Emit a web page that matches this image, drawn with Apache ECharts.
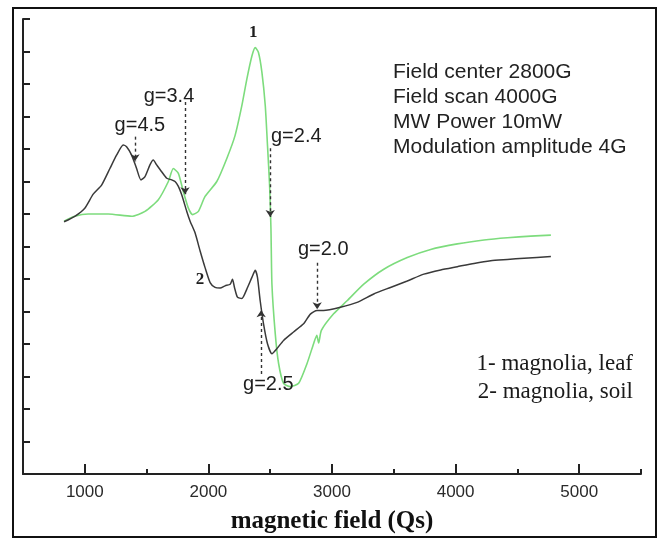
<!DOCTYPE html>
<html>
<head>
<meta charset="utf-8">
<script src="https://cdn.jsdelivr.net/npm/echarts@6/dist/echarts.min.js"></script>
<style>
  html, body { margin: 0; padding: 0; background: #fff; }
  #chart { width: 660px; height: 539px; }
</style>
</head>
<body>
<div id="chart"></div>
<script>
// curve 2 - magnolia, soil (black)
const soilX = [832, 919, 1000, 1068, 1136, 1203, 1257, 1311, 1338, 1379, 1419, 1454, 1487, 1527, 1554, 1582,
  1622, 1663, 1703, 1730, 1757, 1784, 1825, 1852, 1892, 1933, 1973, 2014, 2054, 2095, 2135, 2176, 2195, 2211,
  2235, 2271, 2311, 2352, 2379, 2397, 2419, 2446, 2478, 2514, 2555, 2608, 2689, 2770, 2825, 2879, 2932, 3068,
  3203, 3338, 3473, 3609, 3743, 3879, 4014, 4149, 4284, 4419, 4554, 4771]
const soilY = [7.76, 7.93, 8.18, 8.61, 8.89, 9.40, 9.81, 10.12, 10.07, 9.81, 9.40, 9.05, 9.15, 9.51, 9.66, 9.51,
  9.30, 9.10, 9.05, 9.00, 8.85, 8.59, 8.08, 7.78, 7.42, 6.86, 6.35, 5.89, 5.74, 5.72, 5.79, 5.84, 5.99, 5.74,
  5.44, 5.40, 5.69, 6.05, 6.27, 6.05, 5.33, 4.62, 4.01, 3.70, 3.86, 4.11, 4.37, 4.62, 4.92, 5.03, 5.03, 5.13,
  5.28, 5.54, 5.74, 5.94, 6.15, 6.28, 6.38, 6.48, 6.56, 6.60, 6.64, 6.69]

// curve 1 - magnolia, leaf (green)
const leafX = [832, 919, 1027, 1189, 1379, 1487, 1595, 1676, 1716, 1757, 1797, 1838, 1872, 1919, 1973, 2068,
  2149, 2216, 2271, 2311, 2352, 2379, 2405, 2433, 2460, 2478, 2495, 2506, 2514, 2541, 2568, 2608, 2662, 2730,
  2798, 2851, 2877, 2892, 2914, 3013, 3122, 3257, 3419, 3609, 3798, 4014, 4230, 4419, 4608, 4771]
const leafY = [7.78, 7.93, 8.00, 8.00, 7.93, 8.08, 8.44, 9.00, 9.40, 9.25, 8.69, 8.18, 7.98, 8.08, 8.54, 9.00,
  9.71, 10.42, 11.34, 12.15, 12.86, 13.12, 12.97, 12.36, 11.34, 10.12, 8.89, 7.57, 5.84, 4.31, 3.40, 2.79, 2.69, 2.79,
  3.40, 4.01, 4.27, 4.03, 4.42, 4.93, 5.33, 5.84, 6.30, 6.66, 6.91, 7.08, 7.20, 7.27, 7.32, 7.35]

// g-factor notes and their dashed arrows
const gNames = ['g=4.5', 'g=3.4', 'g=2.4', 'g=2.0', 'g=2.5']
const gLabelX = [1446, 1681, 2711, 2929, 2485]
const gLabelY = [10.72, 11.63, 10.38, 6.90, 2.75]
const arrowX = [1406, 1811, 2500, 2880, 2427]
const arrowFrom = [10.38, 11.45, 10.02, 6.50, 3.08]
const arrowTo = [9.62, 8.61, 7.91, 5.07, 5.04]

// curve numbers
const curveNames = ['1', '2']
const curveNameX = [2362, 1933]
const curveNameY = [13.59, 5.98]

const majorTicks = [1000, 2000, 3000, 4000, 5000]
const minorTicks = [1500, 2500, 3500, 4500, 5500]

const infoLines = ['Field center 2800G', 'Field scan 4000G', 'MW Power 10mW', 'Modulation amplitude 4G']
const legendLines = ['1- magnolia, leaf', '2- magnolia, soil']

const zip = (xs, ys) => xs.map((x, i) => [x, ys[i]])

const chart = echarts.init(document.getElementById('chart'), null, { renderer: 'canvas' })

const graphics = [{
  type: 'rect',
  shape: { x: 13, y: 8, width: 643, height: 529 },
  style: { fill: 'none', stroke: '#111', lineWidth: 2 },
  silent: true
}]
infoLines.forEach((t, i) => {
  graphics.push({
    type: 'text',
    style: { text: t, x: 393, y: 72 + i * 25, font: '21px "Liberation Sans", Arial', fill: '#222', verticalAlign: 'middle' }
  })
})
legendLines.forEach((t, i) => {
  graphics.push({
    type: 'text',
    style: { text: t, x: 633, y: 364 + i * 28, font: '23px "Liberation Serif", "Times New Roman"', fill: '#1a1a1a', align: 'right', verticalAlign: 'middle' }
  })
})

chart.setOption({
  animation: false,
  backgroundColor: '#fff',
  grid: { left: 23, right: 19, top: 19, bottom: 61, containLabel: false },
  xAxis: [{
    type: 'value',
    min: 500,
    max: 5500,
    position: 'bottom',
    axisLine: { lineStyle: { color: '#222', width: 2 } },
    axisTick: { inside: true, length: 10, customValues: majorTicks, lineStyle: { color: '#222', width: 2 } },
    axisLabel: {
      customValues: majorTicks,
      formatter: v => String(v),
      fontSize: 17,
      color: '#2a2a2a',
      margin: 10,
      fontFamily: '"Liberation Sans", Arial'
    },
    splitLine: { show: false },
    name: 'magnetic field (Qs)',
    nameLocation: 'middle',
    nameGap: 35,
    nameTextStyle: { fontFamily: '"Liberation Serif", "Times New Roman"', fontWeight: 'bold', fontSize: 25, color: '#111' }
  }, {
    type: 'value',
    min: 500,
    max: 5500,
    position: 'bottom',
    axisLine: { show: false },
    axisTick: { inside: true, length: 5, customValues: minorTicks, lineStyle: { color: '#222', width: 2 } },
    axisLabel: { show: false },
    splitLine: { show: false }
  }],
  yAxis: {
    type: 'value',
    min: 0,
    max: 14,
    interval: 1,
    axisLine: { show: true, lineStyle: { color: '#222', width: 2 } },
    axisTick: { show: true, inside: true, length: 7, lineStyle: { color: '#222', width: 2 } },
    axisLabel: { show: false },
    splitLine: { show: false }
  },
  graphic: graphics,
  series: [{
    name: 'magnolia, soil',
    type: 'line',
    data: zip(soilX, soilY),
    showSymbol: false,
    smooth: 0.2,
    lineStyle: { color: '#3a3a3a', width: 1.5 },
    z: 3
  }, {
    name: 'magnolia, leaf',
    type: 'line',
    data: zip(leafX, leafY),
    showSymbol: false,
    smooth: 0.2,
    lineStyle: { color: '#7ddc7d', width: 1.6 },
    z: 2
  }, {
    name: 'notes',
    type: 'scatter',
    symbolSize: 0,
    silent: true,
    itemStyle: { opacity: 1 },
    data: gNames.map((n, i) => ({ name: n, value: [gLabelX[i], gLabelY[i]] })),
    label: {
      show: true,
      position: 'inside',
      formatter: p => p.name,
      fontFamily: '"Liberation Sans", Arial',
      fontSize: 20,
      color: '#1e1e1e'
    },
    markLine: {
      silent: true,
      symbol: ['none', 'arrow'],
      symbolSize: 7,
      label: { show: false },
      lineStyle: { color: '#333', type: [3, 3], width: 1.4 },
      data: arrowX.map((x, i) => [{ coord: [x, arrowFrom[i]] }, { coord: [x, arrowTo[i]] }])
    },
    z: 4
  }, {
    name: 'curve numbers',
    type: 'scatter',
    symbolSize: 0,
    silent: true,
    itemStyle: { opacity: 1 },
    data: curveNames.map((n, i) => ({ name: n, value: [curveNameX[i], curveNameY[i]] })),
    label: {
      show: true,
      position: 'inside',
      formatter: p => p.name,
      fontFamily: '"Liberation Serif", "Times New Roman"',
      fontWeight: 'bold',
      fontSize: 17,
      color: '#1e1e1e'
    },
    z: 4
  }]
})
</script>
</body>
</html>
